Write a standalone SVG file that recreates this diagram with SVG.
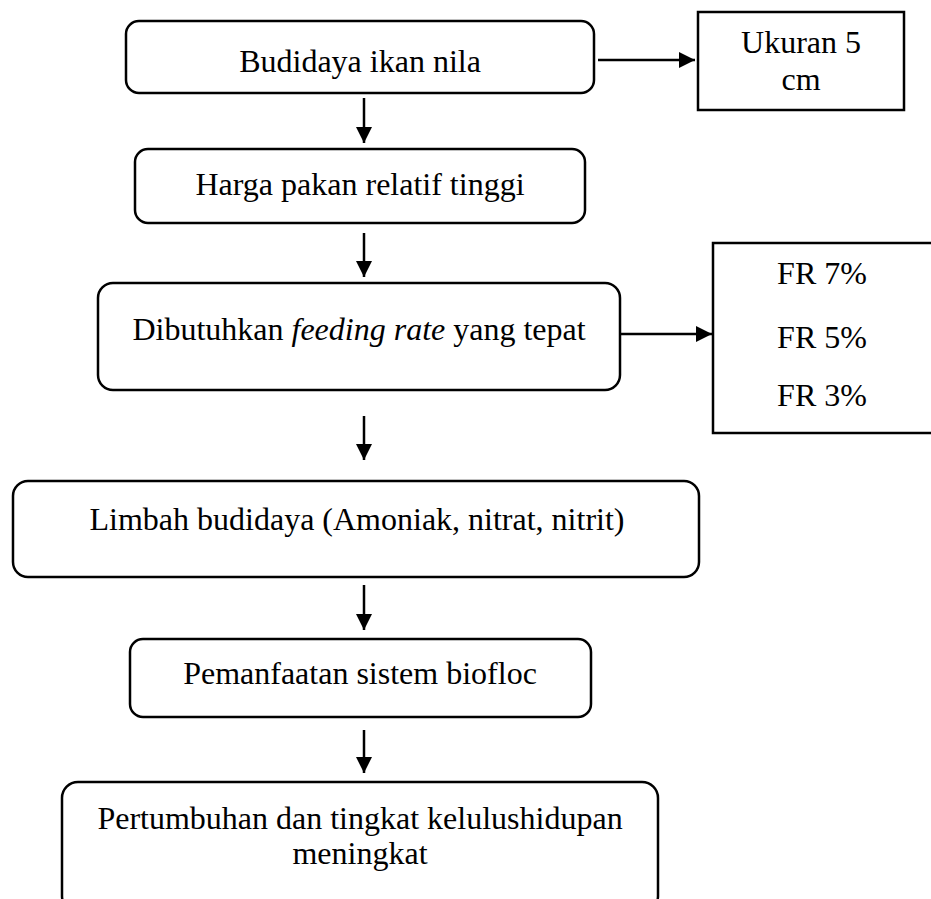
<svg xmlns="http://www.w3.org/2000/svg" width="931" height="899" viewBox="0 0 931 899">
<style>
.box{fill:#fff;stroke:#000;stroke-width:2.5}
.t{font-family:"Liberation Serif","Times New Roman",serif;font-size:32px;fill:#000;text-anchor:middle}
.c{stroke:#000;stroke-width:2.5;fill:none}
</style>
<defs>
<marker id="ah" viewBox="0 0 16 16" refX="16" refY="8" markerWidth="16" markerHeight="16" markerUnits="userSpaceOnUse" orient="auto">
<path d="M0,0 L16,8 L0,16 z" fill="#000"/>
</marker>
</defs>
<rect width="931" height="899" fill="#fff"/>
<g id="n1"><rect class="box" x="126" y="21" width="468" height="72" rx="13"/><text class="t" x="360" y="72">Budidaya ikan nila</text></g>
<g id="n2"><rect class="box" x="698" y="12" width="206" height="98"/><text class="t" x="801" y="53">Ukuran 5</text><text class="t" x="801" y="90">cm</text></g>
<g id="n3"><rect class="box" x="135" y="149" width="450" height="74" rx="13"/><text class="t" x="360" y="195">Harga pakan relatif tinggi</text></g>
<g id="n4"><rect class="box" x="98" y="283" width="522" height="107" rx="15"/><text class="t" x="359" y="340">Dibutuhkan <tspan font-style="italic">feeding rate</tspan> yang tepat</text></g>
<g id="n5"><rect class="box" x="713" y="243" width="240" height="190"/><text class="t" x="822" y="284">FR 7%</text><text class="t" x="822" y="348">FR 5%</text><text class="t" x="822" y="406">FR 3%</text></g>
<g id="n6"><rect class="box" x="13" y="481" width="686" height="96" rx="15"/><text class="t" x="357" y="530">Limbah budidaya (Amoniak, nitrat, nitrit)</text></g>
<g id="n7"><rect class="box" x="130" y="639" width="461" height="78" rx="13"/><text class="t" x="360" y="684">Pemanfaatan sistem biofloc</text></g>
<g id="n8"><rect class="box" x="62" y="782" width="596" height="130" rx="16"/><text class="t" x="360" y="829">Pertumbuhan dan tingkat kelulushidupan</text><text class="t" x="360" y="864">meningkat</text></g>
<g id="connectors">
<line class="c" x1="598" y1="60" x2="695" y2="60" marker-end="url(#ah)"/>
<line class="c" x1="364" y1="98" x2="364" y2="143" marker-end="url(#ah)"/>
<line class="c" x1="364" y1="233" x2="364" y2="277" marker-end="url(#ah)"/>
<line class="c" x1="621" y1="334" x2="712" y2="334" marker-end="url(#ah)"/>
<line class="c" x1="364" y1="416" x2="364" y2="460" marker-end="url(#ah)"/>
<line class="c" x1="364" y1="585" x2="364" y2="630" marker-end="url(#ah)"/>
<line class="c" x1="364" y1="730" x2="364" y2="773" marker-end="url(#ah)"/>
</g>
</svg>
